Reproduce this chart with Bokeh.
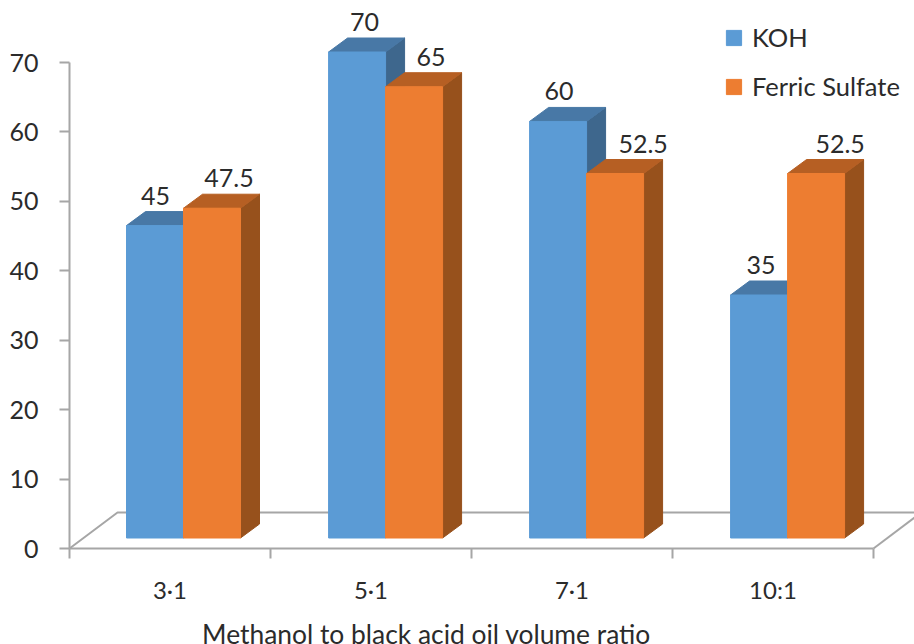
from bokeh.embed import file_html
from bokeh.resources import INLINE
from bokeh.core.properties import value
from bokeh.plotting import figure
from bokeh.models import FixedTicker, Legend, LegendItem, ColumnDataSource

categories = ["3·1", "5·1", "7·1", "10:1"]
koh = [45, 70, 60, 35]
ferric = [47.5, 65, 52.5, 52.5]
y_ticks = [0, 10, 20, 30, 40, 50, 60, 70]
axis_title = "Methanol to black acid oil volume ratio"

FONT = "Lato"
TEXT = "#2b2b2b"
GRID = "#a6a6a6"
PX_X = 201.0            # pixels per category
PX_Y = 486 / 70.0       # pixels per value unit
BAR_W = 57 / PX_X
GROUP_LEFT = [0.2836, 1.289, 2.289, 3.289]
DEPTH_X = 19 / PX_X
DEPTH_Y = 14 / PX_Y
BASE = 10.5 / PX_Y      # front plane of the bars sits above the floor edge
right_edge = 845 / PX_X

# the frame fills the page; both axes are pinned at zero inside it
p = figure(width=914, height=644,
           x_range=(-69 / PX_X, right_edge), y_range=(-96 / PX_Y, 548 / PX_Y),
           output_backend="svg", toolbar_location=None,
           min_border_left=0, min_border_right=0, min_border_top=0, min_border_bottom=0,
           background_fill_color="white", border_fill_color="white", outline_line_color=None)
p.grid.visible = False

# floor of the 3D box
floor_x = 48 / PX_X
floor_y = 36 / PX_Y
p.line([0, floor_x, right_edge], [0, floor_y, floor_y], line_color=GRID, line_width=2)
p.line([4, right_edge], [0, 31 / PX_Y], line_color=GRID, line_width=2)


def prisms(values, offset, front, top, side):
    lefts = [g + offset for g in GROUP_LEFT]
    rights = [l + BAR_W for l in lefts]
    tops = [BASE + v for v in values]
    side_xs = [[r, r + DEPTH_X, r + DEPTH_X, r] for r in rights]
    side_ys = [[BASE, BASE + DEPTH_Y, t + DEPTH_Y, t] for t in tops]
    top_xs = [[l, l + DEPTH_X, r + DEPTH_X, r] for l, r in zip(lefts, rights)]
    top_ys = [[t, t + DEPTH_Y, t + DEPTH_Y, t] for t in tops]
    p.patches(side_xs, side_ys, fill_color=side, line_color=side)
    p.patches(top_xs, top_ys, fill_color=top, line_color=top)
    return p.quad(left=lefts, right=rights, bottom=BASE, top=tops,
                  fill_color=front, line_color=front)


koh_r = prisms(koh, 0, "#5b9bd5", "#4878a6", "#3e678d")
fer_r = prisms(ferric, BAR_W, "#ed7d31", "#b65f23", "#97511c")

# value labels, nudged individually off the bar tops
label_dx = [0.5, 7.5, 1, 2]
label_dx2 = [17, 17, 28, 24]
xs, ys, txt = [], [], []
for i, g in enumerate(GROUP_LEFT):
    xs.append(g + BAR_W / 2 + label_dx[i] / PX_X)
    ys.append(BASE + koh[i] + 30 / PX_Y)
    txt.append(f"{koh[i]:g}")
    xs.append(g + 1.5 * BAR_W + label_dx2[i] / PX_X)
    ys.append(BASE + ferric[i] + 30 / PX_Y)
    txt.append(f"{ferric[i]:g}")
p.text(x="x", y="y", text="t", source=ColumnDataSource(dict(x=xs, y=ys, t=txt)),
       text_align="center", text_baseline="middle", text_font=value(FONT),
       text_font_size="25px", text_color=TEXT)

# horizontal axis title, off-centre and running down to the page's lower edge
p.text(x=[357 / PX_X], y=[-85 / PX_Y], text=[axis_title], text_align="center",
       text_baseline="alphabetic", text_font=value(FONT), text_font_size="26.4px",
       text_color=TEXT)

# axes
xa = p.xaxis[0]
xa.fixed_location = 0
xa.ticker = FixedTicker(ticks=[0.5, 1.5, 2.5, 3.5], minor_ticks=[0, 1, 2, 3, 4])
xa.major_label_overrides = {0.5 + i: c for i, c in enumerate(categories)}
xa.bounds = (0, 4)
xa.axis_line_color = GRID
xa.axis_line_width = 2
xa.major_tick_line_color = None
xa.major_tick_in = 0
xa.major_tick_out = 0
xa.minor_tick_line_color = GRID
xa.minor_tick_line_width = 2
xa.minor_tick_in = 0
xa.minor_tick_out = 10
xa.major_label_standoff = 16
xa.major_label_text_font = FONT
xa.major_label_text_font_size = "24px"
xa.major_label_text_color = TEXT

ya = p.yaxis[0]
ya.fixed_location = 0
ya.ticker = FixedTicker(ticks=y_ticks, minor_ticks=[])
ya.bounds = (0, 70)
ya.axis_line_color = GRID
ya.axis_line_width = 2
ya.major_tick_line_color = GRID
ya.major_tick_line_width = 2
ya.major_tick_in = 0
ya.major_tick_out = 10
ya.major_label_standoff = 21
ya.major_label_text_font = FONT
ya.major_label_text_font_size = "25px"
ya.major_label_text_color = TEXT

legend = Legend(items=[LegendItem(label="KOH", renderers=[koh_r]),
                       LegendItem(label="Ferric Sulfate", renderers=[fer_r])],
                location=(724, 543), orientation="vertical",
                glyph_width=19, glyph_height=19, label_height=19, spacing=19,
                padding=0, margin=0, label_standoff=9,
                background_fill_alpha=0, border_line_color=None,
                label_text_font=FONT, label_text_font_size="25.5px", label_text_color=TEXT)
p.add_layout(legend)

open("out.html", "w").write(file_html(p, INLINE))
